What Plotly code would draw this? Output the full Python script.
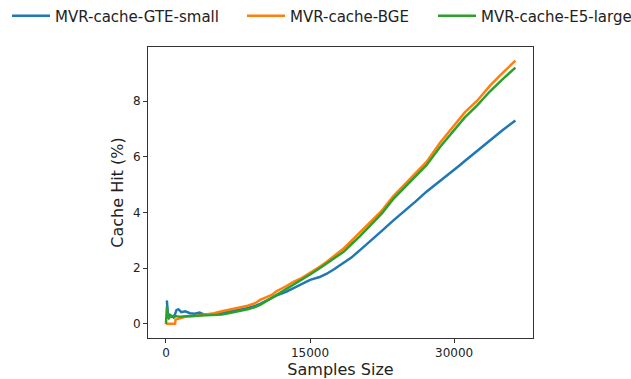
import plotly.graph_objects as go

# Sample sizes (x) for each series
x_gte = [0, 100, 200, 400, 600, 900, 1100, 1300, 1600, 2000, 2500, 3000, 3500, 4000, 5000,
         5820, 6500, 7550, 8500, 9280, 9800, 11010, 11540, 12500, 13270, 14000, 15000, 16000,
         16740, 17500, 18460, 19300, 20200, 21400, 22500, 23650, 25000, 26000, 27120, 28510,
         29500, 30590, 31110, 32400, 33710, 35000, 36380]
y_gte = [0.82, 0.80, 0.35, 0.32, 0.25, 0.30, 0.50, 0.52, 0.42, 0.45, 0.38, 0.36, 0.40, 0.33, 0.35,
         0.39, 0.43, 0.50, 0.57, 0.64, 0.72, 0.95, 1.02, 1.15, 1.28, 1.40, 1.58, 1.68,
         1.80, 1.96, 2.17, 2.38, 2.65, 3.00, 3.35, 3.71, 4.10, 4.40, 4.75, 5.12,
         5.40, 5.70, 5.85, 6.22, 6.60, 6.95, 7.31]

x_bge = [0, 500, 950, 1000, 1500, 2000, 3000, 4000, 5000, 5820, 6500, 7550, 8500, 9280, 9800,
         11010, 11540, 12500, 13270, 14000, 15000, 16000, 16740, 17500, 18460, 19300, 20200,
         21400, 22500, 23650, 25000, 26000, 27120, 28510, 29500, 30590, 31110, 32400, 33710,
         35000, 36380]
y_bge = [0.00, 0.00, 0.00, 0.15, 0.20, 0.25, 0.28, 0.32, 0.38, 0.45, 0.50, 0.56, 0.65, 0.74, 0.86,
         1.04, 1.18, 1.35, 1.51, 1.62, 1.82, 2.05, 2.23, 2.45, 2.70, 2.98, 3.28,
         3.70, 4.08, 4.58, 5.05, 5.42, 5.82, 6.50, 6.92, 7.35, 7.60, 8.02, 8.55,
         9.00, 9.46]

x_e5 = [0, 100, 200, 300, 500, 800, 1000, 1500, 2000, 3000, 4000, 5000, 5820, 6500, 7550,
        8500, 9280, 9800, 11010, 11540, 12500, 13270, 14000, 15000, 16000, 16740, 17500,
        18460, 19300, 20200, 21400, 22500, 23650, 25000, 26000, 27120, 28510, 29500, 30590,
        31110, 32400, 33710, 35000, 36380]
y_e5 = [0.00, 0.62, 0.25, 0.20, 0.30, 0.22, 0.28, 0.25, 0.27, 0.28, 0.30, 0.30, 0.33, 0.38, 0.44,
        0.52, 0.60, 0.68, 0.93, 1.04, 1.22, 1.39, 1.55, 1.77, 2.00, 2.17, 2.35,
        2.58, 2.86, 3.15, 3.58, 3.98, 4.48, 4.95, 5.30, 5.70, 6.35, 6.75, 7.20,
        7.42, 7.85, 8.35, 8.78, 9.21]

names = ["MVR-cache-GTE-small", "MVR-cache-BGE", "MVR-cache-E5-large"]
colors = ["#1f77b4", "#ff7f0e", "#2ca02c"]
x_ticks = [0, 15000, 30000]
y_ticks = [0, 2, 4, 6, 8]

FONT = "DejaVu Sans"
fig = go.Figure()
series = [(x_gte, y_gte), (x_bge, y_bge), (x_e5, y_e5)]
legends = ["legend", "legend2", "legend3"]
for (xs, ys), name, c, lg in zip(series, names, colors, legends):
    fig.add_trace(go.Scatter(x=xs, y=ys, mode="lines", name=name, showlegend=True,
                             line=dict(color=c, width=2.5), legend=lg))

axis_common = dict(showline=True, linecolor="#333333", linewidth=1, mirror=True,
                   showgrid=False, zeroline=False, ticks="outside", ticklen=4,
                   tickwidth=1, tickcolor="#333333", automargin=False,
                   tickfont=dict(family=FONT, size=12, color="#222222"))

leg_common = dict(orientation="h", xref="container", yref="container", yanchor="middle",
                  xanchor="left", y=1 - 16 / 379, bgcolor="rgba(0,0,0,0)", itemwidth=38,
                  font=dict(family=FONT, size=15, color="#222222"))

fig.update_layout(
    width=631, height=379,
    margin=dict(l=148, r=98, t=47, b=41, autoexpand=False),
    plot_bgcolor="white", paper_bgcolor="white",
    font=dict(family=FONT),
    xaxis=dict(range=[-1871, 38210], tickvals=x_ticks, ticktext=[str(v) for v in x_ticks],
               title=dict(text="Samples Size", font=dict(family=FONT, size=16, color="#222222"),
                          standoff=4),
               **axis_common),
    yaxis=dict(range=[-0.51, 9.95], tickvals=y_ticks, ticktext=[str(v) for v in y_ticks],
               title=dict(text="Cache Hit (%)", font=dict(family=FONT, size=16, color="#222222"),
                          standoff=5),
               **axis_common),
    legend=dict(x=7 / 631, **leg_common),
    legend2=dict(x=242 / 631, **leg_common),
    legend3=dict(x=433 / 631, **leg_common),
)

fig.write_html("out.html")
